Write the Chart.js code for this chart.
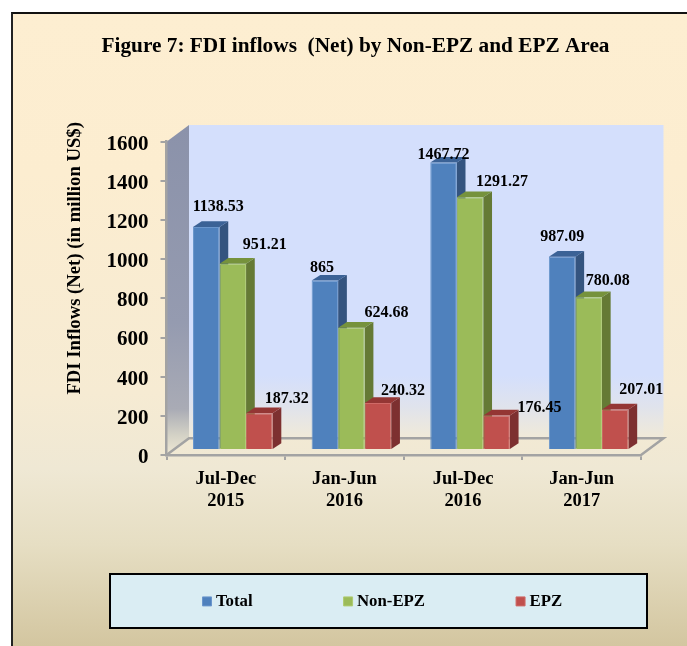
<!DOCTYPE html>
<html><head><meta charset="utf-8">
<style>
html,body{margin:0;padding:0;background:#fff;}
#frame{position:absolute;left:11px;top:12px;width:676px;height:634px;box-sizing:border-box;border-left:2px solid #222;border-top:2px solid #111;
background:linear-gradient(180deg,#fdeed1 0%,#fcedd0 25%,#f6ebd3 60%,#efe8d4 72%,#e6dec3 84%,#d3c6a0 100%);}
canvas{position:absolute;left:0;top:0;}
</style>
<script src="https://cdn.jsdelivr.net/npm/chart.js@4"></script>
</head><body>
<div id="frame"></div>
<canvas id="c" width="687" height="646"></canvas>
<script>
const categories=[['Jul-Dec','2015'],['Jan-Jun','2016'],['Jul-Dec','2016'],['Jan-Jun','2017']];
const total=[1138.53,865,1467.72,987.09];
const nonEpz=[951.21,624.68,1291.27,780.08];
const epz=[187.32,240.32,176.45,207.01];
const seriesNames=['Total','Non-EPZ','EPZ'];
const titleText='Figure 7: FDI inflows  (Net) by Non-EPZ and EPZ Area';
const axisTitle='FDI Inflows (Net) (in million US$)';

const SERIF='"Liberation Serif"';
const front=['#4f81bd','#9bbb59','#c0504d'];
const edge=['#6a96cc','#aecb6f','#cf6a67'];
const side=['#34547f','#657a35','#7d3030'];
const topc=['#3b6296','#76923c','#943634'];
const shift={x:7,y:-5};       // bar plane is pushed back into the 3-D box
const bar3d={dx:8.7,dy:5.7};
const box3d={dx:22.5,dy:16.7};
const labelNudge=[
 [[12,-20],[32,-19],[27.5,-14]],
 [[-3,-13],[35,-15],[25,-12]],
 [[0,-8],[32,-15],[43,-8]],
 [[0,-20],[19,-16],[26,-20]]
];
function poly(ctx,pts,fill,stroke,lw){
  ctx.beginPath();pts.forEach((p,i)=>i?ctx.lineTo(p[0],p[1]):ctx.moveTo(p[0],p[1]));ctx.closePath();
  if(fill){ctx.fillStyle=fill;ctx.fill();}
  if(stroke){ctx.strokeStyle=stroke;ctx.lineWidth=lw||1;ctx.stroke();}
}
function nudgeDraw(scale,name,dx,dy){
  const o=scale[name];
  scale[name]=function(...a){const c=this.ctx;c.save();c.translate(dx,dy);o.apply(this,a);c.restore();};
}
const scene={
  id:'scene',
  afterLayout(chart){
    const lg=chart.legend; const tb=chart.titleBlock;
    lg.left=111.5;lg.right=687;lg.top=593-lg.options.labels.padding;lg.bottom=646;
    tb.left=24;tb.right=687;
    const y=chart.scales.y;
    if(!y._patched){y._patched=true;nudgeDraw(y,'drawTitle',0,-40);nudgeDraw(y,'drawLabels',0,2.5);}
  },
  beforeDraw(chart){
    const {ctx,chartArea:a}=chart;
    const L=a.left,R=a.right,T=a.top,B=a.bottom,dx=box3d.dx,dy=box3d.dy;
    // back wall
    let g=ctx.createLinearGradient(0,T-dy,0,B-dy);
    g.addColorStop(0,'#d4dffc');g.addColorStop(0.8,'#d4dffc');g.addColorStop(0.9,'#e0e3ec');g.addColorStop(1,'#f1ead8');
    poly(ctx,[[L+dx,T-dy],[R+dx,T-dy],[R+dx,B-dy],[L+dx,B-dy]],g);
    // side wall
    g=ctx.createLinearGradient(0,T-dy,0,B);
    g.addColorStop(0,'#8b92aa');g.addColorStop(0.6,'#959bb0');g.addColorStop(0.86,'#a9abb5');g.addColorStop(0.94,'#d4d2c6');g.addColorStop(1,'#efe8d4');
    poly(ctx,[[L,T],[L+dx,T-dy],[L+dx,B-dy],[L,B]],g);
    // floor edges
    ctx.strokeStyle='#a3a3a3';ctx.lineWidth=2.5;ctx.beginPath();
    ctx.moveTo(L,B);ctx.lineTo(L+dx,B-dy);ctx.lineTo(R+dx,B-dy);ctx.lineTo(R,B);ctx.stroke();
    // legend panel
    ctx.fillStyle='#daedf3';ctx.fillRect(110,574,537,54);
    ctx.strokeStyle='#000';ctx.lineWidth=2;ctx.strokeRect(110,574,537,54);
  },
  beforeDatasetsDraw(chart){
    const {ctx}=chart;ctx.save();ctx.translate(shift.x,shift.y);
    chart.data.datasets.forEach((ds,i)=>{
      chart.getDatasetMeta(i).data.forEach(b=>{
        const l=b.x-b.width/2,r=b.x+b.width/2,t=b.y,bt=b.base,dx=bar3d.dx,dy=bar3d.dy;
        poly(ctx,[[r,t],[r+dx,t-dy],[r+dx,bt-dy],[r,bt]],side[i]);
        poly(ctx,[[l,t],[l+dx,t-dy],[r+dx,t-dy],[r,t]],topc[i]);
      });
    });
  },
  afterDatasetsDraw(chart){
    const {ctx}=chart;
    chart.data.datasets.forEach((ds,i)=>{
      chart.getDatasetMeta(i).data.forEach((b,j)=>{
        const n=labelNudge[j][i];
        ctx.font='bold 16px '+SERIF;ctx.fillStyle='#000';ctx.textAlign='center';ctx.textBaseline='middle';
        ctx.fillText(String(ds.data[j]),b.x+n[0],b.y+n[1]);
      });
    });
    ctx.restore();
  }
};
new Chart(document.getElementById('c'),{
  type:'bar',
  data:{labels:categories,datasets:[
    {label:seriesNames[0],data:total,backgroundColor:front[0],borderColor:edge[0],borderWidth:1},
    {label:seriesNames[1],data:nonEpz,backgroundColor:front[1],borderColor:edge[1],borderWidth:1},
    {label:seriesNames[2],data:epz,backgroundColor:front[2],borderColor:edge[2],borderWidth:1}
  ]},
  plugins:[scene],
  options:{
    responsive:false,animation:false,
    barPercentage:1,categoryPercentage:0.671,
    layout:{padding:{left:64,right:46,top:0,bottom:131}},
    plugins:{
      tooltip:{enabled:false},
      title:{display:true,text:titleText,color:'#000',font:{family:SERIF,size:21.3,weight:'bold',lineHeight:1.2},padding:{top:34.2,bottom:80.94}},
      legend:{position:'top',align:'start',maxHeight:1,
        labels:{color:'#000',font:{family:SERIF,size:16.8,weight:'bold'},usePointStyle:true,pointStyle:'rect',boxWidth:1,boxHeight:9,padding:95}}
    },
    scales:{
      x:{afterFit(s){s.height=60;},
        grid:{drawOnChartArea:false,color:'#a3a3a3',tickLength:5,lineWidth:2},border:{color:'#a3a3a3',width:2.5},
        ticks:{color:'#000',font:{family:SERIF,size:18.5,weight:'bold'},maxRotation:0,padding:8}},
      y:{min:0,max:1600,afterFit(s){s.width=102.5;},
        grid:{drawOnChartArea:false,color:'#a3a3a3',tickLength:6,lineWidth:2},border:{color:'#a3a3a3',width:2.5},
        ticks:{stepSize:200,callback:v=>String(v),color:'#000',font:{family:SERIF,size:21,weight:'bold'},padding:12},
        title:{display:true,text:axisTitle,color:'#000',font:{family:SERIF,size:18.7,weight:'bold'},padding:{top:0,bottom:0}}}
    }
  }
});
</script>
</body></html>
